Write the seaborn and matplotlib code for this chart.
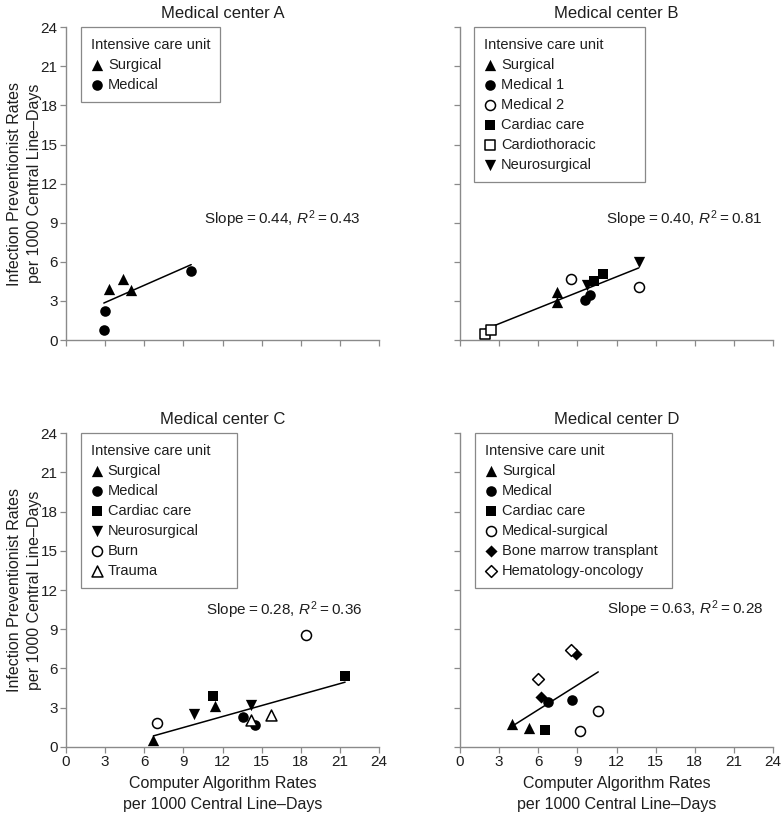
import numpy as np
import pandas as pd
import matplotlib
matplotlib.use("Agg")
import matplotlib.pyplot as plt
import seaborn as sns

# ---------------- data ----------------
centers = ["Medical center A", "Medical center B", "Medical center C", "Medical center D"]

a_units = ["Surgical", "Surgical", "Surgical", "Medical", "Medical", "Medical"]
a_x = [3.3, 4.4, 5.0, 3.0, 2.9, 9.6]
a_y = [3.9, 4.7, 3.85, 2.25, 0.77, 5.3]
a_order = ["Surgical", "Medical"]

b_units = ["Cardiothoracic", "Cardiothoracic", "Surgical", "Surgical", "Medical 2", "Medical 2",
           "Medical 1", "Medical 1", "Neurosurgical", "Neurosurgical", "Cardiac care", "Cardiac care"]
b_x = [1.9, 2.4, 7.4, 7.4, 8.5, 13.7, 9.6, 10.0, 9.7, 13.7, 10.3, 11.0]
b_y = [0.45, 0.8, 3.65, 2.9, 4.65, 4.05, 3.05, 3.45, 4.2, 6.0, 4.5, 5.1]
b_order = ["Surgical", "Medical 1", "Medical 2", "Cardiac care", "Cardiothoracic", "Neurosurgical"]

c_units = ["Surgical", "Surgical", "Medical", "Medical", "Cardiac care", "Cardiac care",
           "Neurosurgical", "Neurosurgical", "Burn", "Burn", "Trauma", "Trauma"]
c_x = [6.7, 11.4, 13.6, 14.5, 11.3, 21.4, 9.8, 14.2, 7.0, 18.4, 14.2, 15.7]
c_y = [0.5, 3.1, 2.25, 1.65, 3.85, 5.45, 2.5, 3.2, 1.85, 8.55, 2.05, 2.45]
c_order = ["Surgical", "Medical", "Cardiac care", "Neurosurgical", "Burn", "Trauma"]

d_units = ["Surgical", "Surgical", "Medical", "Medical", "Cardiac care", "Medical-surgical",
           "Medical-surgical", "Bone marrow transplant", "Bone marrow transplant",
           "Hematology-oncology", "Hematology-oncology"]
d_x = [4.0, 5.3, 6.75, 8.6, 6.5, 9.2, 10.6, 6.2, 8.9, 6.0, 8.5]
d_y = [1.75, 1.4, 3.4, 3.6, 1.3, 1.2, 2.75, 3.8, 7.1, 5.2, 7.4]
d_order = ["Surgical", "Medical", "Cardiac care", "Medical-surgical",
           "Bone marrow transplant", "Hematology-oncology"]

fit_slope = [0.44, 0.40, 0.28, 0.63]
fit_intercept = [1.56, 0.05, -1.05, -0.95]
r_squared = [0.43, 0.81, 0.36, 0.28]

ticks = [0, 3, 6, 9, 12, 15, 18, 21, 24]

# ---------------- styles ----------------
# marker, filled, size
unit_style = {
    "Surgical": ("^", True, 66),
    "Medical": ("o", True, 58),
    "Medical 1": ("o", True, 58),
    "Medical 2": ("o", False, 52),
    "Cardiac care": ("s", True, 50),
    "Cardiothoracic": ("s", False, 48),
    "Neurosurgical": ("v", True, 66),
    "Burn": ("o", False, 52),
    "Trauma": ("^", False, 62),
    "Medical-surgical": ("o", False, 52),
    "Bone marrow transplant": ("D", True, 38),
    "Hematology-oncology": ("D", False, 36),
}

sns.set_theme(style="ticks")
plt.rcParams["font.family"] = ["Liberation Sans", "DejaVu Sans"]
plt.rcParams["mathtext.fontset"] = "custom"
plt.rcParams["mathtext.rm"] = "Liberation Sans"
plt.rcParams["mathtext.it"] = "Liberation Sans:italic"
plt.rcParams["mathtext.bf"] = "Liberation Sans:bold"

TXT = "#1e1e1e"
AX = "#8a8a8a"

W, H = 782, 816
fig = plt.figure(figsize=(W / 100, H / 100), dpi=100)


def pos(x0, x1, ytop, ybot):
    return [x0 / W, 1 - ybot / H, (x1 - x0) / W, (ybot - ytop) / H]


panel_pos = [pos(66, 379, 27.3, 340), pos(460, 773, 27.3, 340),
             pos(66, 379, 433.3, 746.7), pos(460, 773, 433.3, 746.7)]
text_pos = [(22.6, 9.3), (23.2, 9.3), (22.7, 10.45), (23.3, 10.5)]
# legend box: left edge and width in axes fraction
legend_box = [(0.048, 0.445), (0.045, 0.546), (0.047, 0.499), (0.048, 0.629)]

datasets = [(a_units, a_x, a_y, a_order), (b_units, b_x, b_y, b_order),
            (c_units, c_x, c_y, c_order), (d_units, d_x, d_y, d_order)]

TS = "\u2009"

for i, (units, xs, ys, order) in enumerate(datasets):
    ax = fig.add_axes(panel_pos[i])
    df = pd.DataFrame({"x": xs, "y": ys, "unit": units})

    # regression line
    xmin, xmax = df["x"].min(), df["x"].max()
    lx = np.array([xmin, xmax])
    ax.plot(lx, fit_intercept[i] + fit_slope[i] * lx, color="black", lw=1.1, zorder=2)

    for u in order:
        sub = df[df["unit"] == u]
        m, filled, s = unit_style[u]
        sns.scatterplot(data=sub, x="x", y="y", marker=m, s=s,
                        color="black" if filled else "white",
                        edgecolor="black", linewidth=0 if filled else 1.1,
                        ax=ax, label=u, zorder=3)

    ax.set_xlim(0, 24)
    ax.set_ylim(0, 24)
    ax.set_xticks(ticks)
    ax.set_yticks(ticks)
    ax.set_xlabel("")
    ax.set_ylabel("")
    sns.despine(ax=ax)
    for sp in ["left", "bottom"]:
        ax.spines[sp].set_color(AX)
        ax.spines[sp].set_linewidth(1.0)
    ax.tick_params(direction="out", length=4, width=0.9, color=AX,
                   labelsize=11, labelcolor=TXT, pad=2)
    if i < 2:
        ax.tick_params(labelbottom=False)
    if i % 2 == 1:
        ax.tick_params(labelleft=False)

    ax.set_title(centers[i], fontsize=12, color=TXT, pad=6.5)

    label = ("Slope" + TS + "=" + TS + "%.2f, " % fit_slope[i] + r"$R^{2}$" +
             TS + "=" + TS + "%.2f" % r_squared[i])
    ax.text(text_pos[i][0], text_pos[i][1], label,
            ha="right", va="center", fontsize=11, color=TXT)

    lx0, lw = legend_box[i]
    leg = ax.legend(title="Intensive care unit", loc="upper left",
                    bbox_to_anchor=(lx0, 0.0, lw, 1.0), mode="expand", borderaxespad=0,
                    frameon=True, fancybox=False, fontsize=10.5, title_fontsize=10.5,
                    alignment="left", borderpad=0.7, labelspacing=0.42,
                    handletextpad=0.35, handlelength=0.8, markerscale=1.0)
    leg.get_frame().set_edgecolor("#6a6a6a")
    leg.get_frame().set_linewidth(0.9)
    leg.get_title().set_color(TXT)
    for t in leg.get_texts():
        t.set_color(TXT)

    if i % 2 == 0:
        ax.set_ylabel("Infection Preventionist Rates\nper 1000 Central Line\u2013Days",
                      fontsize=11.5, color=TXT, linespacing=1.4)
        ax.yaxis.set_label_coords(-0.078, 0.5)
    if i >= 2:
        ax.set_xlabel("Computer Algorithm Rates\nper 1000 Central Line\u2013Days",
                      fontsize=11.5, color=TXT, linespacing=1.45)
        ax.xaxis.set_label_coords(0.5, -0.094)

fig.savefig("out.png", dpi=100)
